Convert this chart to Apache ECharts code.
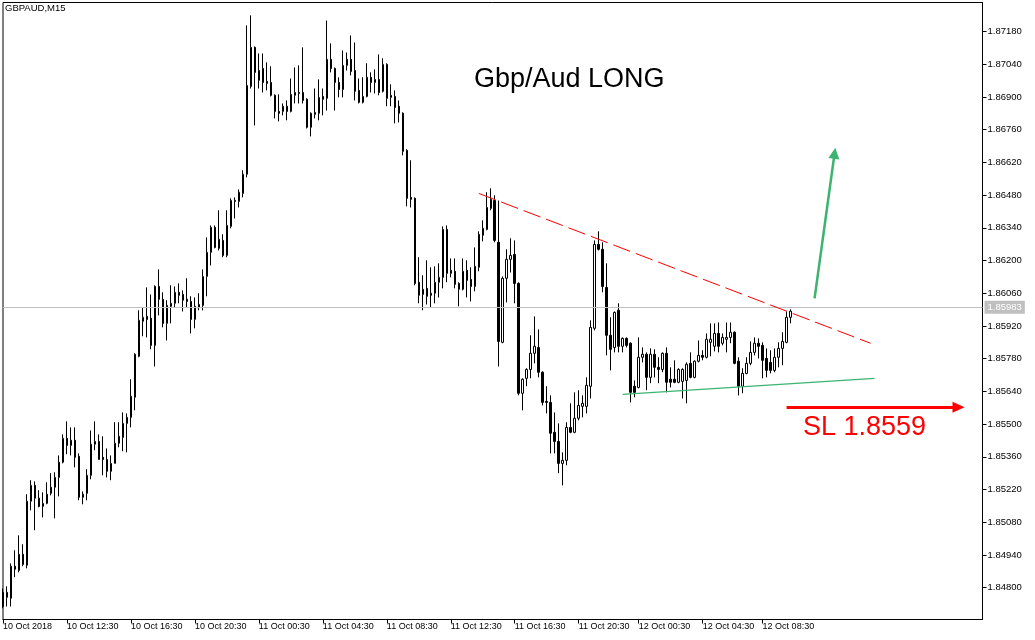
<!DOCTYPE html>
<html><head><meta charset="utf-8">
<script src="https://cdn.jsdelivr.net/npm/echarts@6.0.0/dist/echarts.min.js"></script>
<style>html,body{margin:0;padding:0;background:#fff}#c{width:1035px;height:640px}</style>
</head><body><div id="c"></div>
<script>
// ---- data (GBPAUD M15) ----
const opens = [
1.84780,1.84780,1.84755,1.84892,1.84874,1.84943,1.84896,1.85170,1.85238,1.85183,
1.85148,1.85161,1.85204,1.85230,1.85272,1.85337,1.85439,1.85409,1.85431,1.85362,
1.85187,1.85204,1.85281,1.85414,1.85426,1.85358,1.85349,1.85298,1.85332,1.85418,
1.85443,1.85503,1.85529,1.85615,1.85790,1.85940,1.85961,1.85953,1.85837,1.86089,
1.86034,1.85931,1.86004,1.86017,1.86064,1.86055,1.86034,1.86025,1.85948,1.86000,
1.86008,1.86132,1.86235,1.86342,1.86252,1.86286,1.86222,1.86346,1.86457,1.86453,
1.86487,1.86569,1.86945,1.87112,1.86971,1.87022,1.86966,1.86962,1.86907,1.86838,
1.86838,1.86860,1.86838,1.86907,1.86919,1.86919,1.86890,1.86770,1.86825,1.86830,
1.86902,1.86894,1.87061,1.87022,1.86962,1.86932,1.87035,1.87061,1.87013,1.86928,
1.86877,1.86902,1.86984,1.86962,1.86975,1.86924,1.87039,1.86898,1.86902,1.86860,
1.86830,1.86671,1.86470,1.86466,1.86107,1.86055,1.86081,1.86051,1.86060,1.86107,
1.86128,1.86333,1.86145,1.86154,1.86102,1.86077,1.86158,1.86119,1.86089,1.86171,
1.86308,1.86333,1.86423,1.86457,1.86278,1.85850,1.86124,1.86205,1.86226,1.86102,
1.85632,1.85696,1.85734,1.85803,1.85828,1.85722,1.85597,1.85593,1.85465,1.85426,
1.85332,1.85345,1.85486,1.85465,1.85525,1.85576,1.85576,1.85662,1.85910,1.86269,
1.86248,1.86085,1.85880,1.85828,1.85987,1.85833,1.85867,1.85846,1.85662,1.85657,
1.85786,1.85799,1.85700,1.85799,1.85743,1.85734,1.85803,1.85692,1.85692,1.85679,
1.85683,1.85687,1.85760,1.85700,1.85769,1.85794,1.85786,1.85850,1.85833,1.85888,
1.85846,1.85863,1.85871,1.85893,1.85769,1.85662,1.85717,1.85760,1.85807,1.85846,
1.85837,1.85781,1.85764,1.85730,1.85786,1.85824,1.85850,1.85957];
const closes = [
1.84720,1.84759,1.84892,1.84879,1.84943,1.84900,1.85170,1.85238,1.85183,1.85148,
1.85161,1.85200,1.85230,1.85272,1.85337,1.85439,1.85409,1.85431,1.85358,1.85187,
1.85200,1.85281,1.85414,1.85426,1.85349,1.85349,1.85298,1.85332,1.85418,1.85448,
1.85503,1.85529,1.85619,1.85799,1.85944,1.85957,1.85948,1.85837,1.86089,1.86034,
1.85931,1.86008,1.86017,1.86064,1.86051,1.86030,1.86025,1.85948,1.86004,1.86012,
1.86132,1.86235,1.86342,1.86256,1.86291,1.86222,1.86350,1.86457,1.86453,1.86492,
1.86569,1.86949,1.87112,1.87005,1.87013,1.86962,1.86958,1.86907,1.86838,1.86830,
1.86860,1.86838,1.86911,1.86919,1.86915,1.86885,1.86770,1.86830,1.86834,1.86898,
1.86890,1.87061,1.87022,1.86962,1.86932,1.87035,1.87061,1.87009,1.86924,1.86877,
1.86902,1.86984,1.86962,1.86975,1.86919,1.87039,1.86894,1.86907,1.86855,1.86830,
1.86667,1.86466,1.86462,1.86102,1.86051,1.86077,1.86047,1.86060,1.86107,1.86128,
1.86333,1.86145,1.86158,1.86098,1.86077,1.86154,1.86115,1.86089,1.86175,1.86312,
1.86338,1.86427,1.86462,1.86286,1.85854,1.86124,1.86205,1.86222,1.86102,1.85632,
1.85692,1.85734,1.85803,1.85833,1.85722,1.85593,1.85593,1.85461,1.85426,1.85332,
1.85345,1.85486,1.85465,1.85525,1.85580,1.85589,1.85666,1.85914,1.86269,1.86248,
1.86089,1.85880,1.85820,1.85978,1.85833,1.85867,1.85837,1.85636,1.85636,1.85786,
1.85799,1.85700,1.85799,1.85743,1.85734,1.85803,1.85679,1.85679,1.85679,1.85734,
1.85734,1.85756,1.85700,1.85769,1.85794,1.85786,1.85863,1.85863,1.85888,1.85833,
1.85871,1.85871,1.85893,1.85760,1.85662,1.85717,1.85760,1.85807,1.85846,1.85833,
1.85773,1.85730,1.85730,1.85786,1.85824,1.85854,1.85957,1.85983];
const lows = [
1.84712,1.84720,1.84720,1.84845,1.84866,1.84892,1.84883,1.85131,1.85046,1.85144,
1.85101,1.85157,1.85195,1.85097,1.85191,1.85332,1.85371,1.85366,1.85315,1.85174,
1.85157,1.85174,1.85264,1.85388,1.85349,1.85281,1.85272,1.85260,1.85332,1.85401,
1.85384,1.85379,1.85486,1.85559,1.85786,1.85876,1.85871,1.85820,1.85747,1.85965,
1.85914,1.85858,1.85931,1.86000,1.86017,1.85982,1.86000,1.85888,1.85910,1.85987,
1.85987,1.86047,1.86179,1.86252,1.86243,1.86214,1.86214,1.86338,1.86380,1.86427,
1.86470,1.86556,1.86936,1.86778,1.86936,1.86919,1.86928,1.86902,1.86808,1.86795,
1.86821,1.86800,1.86834,1.86872,1.86872,1.86872,1.86765,1.86731,1.86808,1.86800,
1.86821,1.86842,1.87005,1.86842,1.86898,1.86898,1.87013,1.86992,1.86885,1.86872,
1.86872,1.86898,1.86919,1.86915,1.86907,1.86919,1.86860,1.86860,1.86787,1.86791,
1.86650,1.86432,1.86427,1.86094,1.86017,1.85987,1.86012,1.86000,1.86017,1.86042,
1.86081,1.86107,1.86128,1.86081,1.86004,1.86072,1.86042,1.86025,1.86068,1.86154,
1.86282,1.86329,1.86415,1.86278,1.85747,1.85846,1.86021,1.86149,1.86017,1.85623,
1.85559,1.85662,1.85696,1.85760,1.85700,1.85580,1.85546,1.85375,1.85375,1.85290,
1.85238,1.85324,1.85461,1.85461,1.85516,1.85529,1.85546,1.85610,1.85901,1.86243,
1.86064,1.85794,1.85730,1.85807,1.85807,1.85807,1.85828,1.85593,1.85615,1.85653,
1.85764,1.85645,1.85675,1.85700,1.85675,1.85722,1.85636,1.85657,1.85675,1.85675,
1.85610,1.85589,1.85696,1.85696,1.85764,1.85773,1.85781,1.85790,1.85811,1.85807,
1.85837,1.85807,1.85846,1.85756,1.85623,1.85632,1.85713,1.85752,1.85794,1.85781,
1.85696,1.85700,1.85717,1.85722,1.85743,1.85752,1.85846,1.85931];
const highs = [
1.84797,1.84806,1.84904,1.84960,1.85024,1.84986,1.85200,1.85260,1.85255,1.85217,
1.85208,1.85251,1.85290,1.85294,1.85366,1.85456,1.85512,1.85486,1.85486,1.85375,
1.85212,1.85307,1.85473,1.85512,1.85456,1.85448,1.85396,1.85366,1.85508,1.85508,
1.85550,1.85546,1.85692,1.85803,1.85987,1.86000,1.86085,1.86055,1.86094,1.86162,
1.86064,1.86030,1.86094,1.86089,1.86102,1.86072,1.86124,1.86047,1.86042,1.86060,
1.86162,1.86299,1.86350,1.86350,1.86415,1.86312,1.86415,1.86466,1.86470,1.86504,
1.86586,1.87206,1.87249,1.87116,1.87086,1.87086,1.87048,1.87031,1.86911,1.86911,
1.86872,1.86885,1.86979,1.87026,1.87035,1.87112,1.86894,1.86834,1.86936,1.86975,
1.86936,1.87227,1.87129,1.87026,1.86984,1.87099,1.87090,1.87163,1.87133,1.86979,
1.86984,1.87044,1.87005,1.87018,1.87082,1.87065,1.87044,1.86954,1.86928,1.86885,
1.86834,1.86676,1.86629,1.86470,1.86214,1.86137,1.86201,1.86171,1.86175,1.86188,
1.86346,1.86350,1.86209,1.86209,1.86107,1.86209,1.86201,1.86171,1.86256,1.86325,
1.86372,1.86492,1.86509,1.86479,1.86457,1.86132,1.86248,1.86295,1.86286,1.86107,
1.85696,1.85739,1.85880,1.85961,1.85905,1.85726,1.85662,1.85623,1.85550,1.85503,
1.85379,1.85508,1.85589,1.85636,1.85645,1.85623,1.85700,1.85944,1.86286,1.86325,
1.86278,1.86188,1.85957,1.85982,1.86017,1.85871,1.85871,1.85850,1.85687,1.85871,
1.85828,1.85807,1.85824,1.85820,1.85786,1.85807,1.85828,1.85743,1.85773,1.85739,
1.85739,1.85764,1.85807,1.85773,1.85858,1.85816,1.85888,1.85931,1.85931,1.85935,
1.85888,1.85935,1.85935,1.85897,1.85786,1.85739,1.85786,1.85854,1.85871,1.85867,
1.85850,1.85824,1.85816,1.85824,1.85850,1.85893,1.85982,1.85991];

const timeLabels = ['10 Oct 2018','10 Oct 12:30','10 Oct 16:30','10 Oct 20:30','11 Oct 00:30','11 Oct 04:30',
  '11 Oct 08:30','11 Oct 12:30','11 Oct 16:30','11 Oct 20:30','12 Oct 00:30','12 Oct 04:30','12 Oct 08:30'];
const timeLabelBar = [0,16,32,48,64,80,96,112,128,144,159,175,190];
const priceTicks = [1.84800,1.84940,1.85080,1.85220,1.85360,1.85500,1.85640,1.85780,1.85920,
  1.86060,1.86200,1.86340,1.86480,1.86620,1.86760,1.86900,1.87040,1.87180];
const lastPrice = 1.85983;
const priceMin = 1.84664, priceMax = 1.87304;
const slotCount = 246;              // chart slots including empty right margin
// annotation anchors [bar index, price]
const resistanceLine = [[119, 1.86487], [217, 1.85846]];
const supportLine = [[155, 1.85627], [218, 1.85696]];
const longArrow = [[203, 1.86038], [208, 1.86659]];
const stopArrow = [[196, 1.85572], [239, 1.85572]];
const titleText = 'Gbp/Aud LONG';
const slText = 'SL 1.8559';
const symbolText = 'GBPAUD,M15';

// ---- chart ----
const categories = Array.from({length: slotCount}, (_, i) => String(i));
const candles = opens.map((o, i) => [o, closes[i], lows[i], highs[i]]);
const isTimeTick = (idx) => timeLabelBar.indexOf(idx) >= 0;
const seg = (pts) => [{coord: pts[0]}, {coord: pts[1]}];

const chart = echarts.init(document.getElementById('c'), null, {renderer: 'canvas'});
chart.setOption({
  animation: false,
  backgroundColor: '#fff',
  title: [
    {text: symbolText, left: 5, top: 3, padding: 0,
      textStyle: {fontFamily: 'Liberation Sans', fontSize: 9.5, fontWeight: 'normal', color: '#000'}},
    {text: titleText, left: 474, top: 66, padding: 0,
      textStyle: {fontFamily: 'Liberation Sans', fontSize: 27, fontWeight: 'normal', color: '#000'}},
    {text: slText, left: 803, top: 414, padding: 0,
      textStyle: {fontFamily: 'Liberation Sans', fontSize: 27, fontWeight: 'normal', color: '#ff0000'}}
  ],
  grid: {left: 2.5, right: 52.5, top: 2.5, bottom: 20.5, show: true, borderColor: '#000', borderWidth: 1,
    backgroundColor: '#fff', containLabel: false},
  xAxis: {
    type: 'category', data: categories, boundaryGap: false,
    axisLine: {show: true, lineStyle: {color: '#000', width: 1}},
    axisTick: {show: true, interval: isTimeTick, length: 4, lineStyle: {color: '#000'}},
    axisLabel: {show: true, interval: isTimeTick, align: 'left', margin: 3,
      fontFamily: 'Liberation Sans', fontSize: 9, color: '#000',
      formatter: (v, idx) => { const j = timeLabelBar.indexOf(idx); return j >= 0 ? timeLabels[j] : ''; }},
    splitLine: {show: false}
  },
  yAxis: {
    type: 'value', position: 'right', min: priceMin, max: priceMax, scale: true,
    axisLine: {show: true, lineStyle: {color: '#000', width: 1}},
    axisTick: {show: true, length: 4, customValues: priceTicks, lineStyle: {color: '#000'}},
    axisLabel: {show: true, margin: 5, customValues: priceTicks, fontFamily: 'Liberation Sans', fontSize: 9.5,
      color: '#000', formatter: (v) => v.toFixed(5)},
    splitLine: {show: false}
  },
  series: [
    {
      type: 'candlestick', data: candles, barWidth: 2,
      itemStyle: {color: '#fff', color0: '#000', borderColor: '#000', borderColor0: '#000', borderWidth: 1},
      markLine: {
        silent: true, symbol: ['none', 'none'], animation: false,
        lineStyle: {color: '#c0c0c0', type: 'solid', width: 1},
        label: {show: true, position: 'end', distance: 2, formatter: () => lastPrice.toFixed(5),
          color: '#fff', backgroundColor: '#c0c0c0', padding: [2, 3, 1, 3],
          fontFamily: 'Liberation Sans', fontSize: 9.5},
        data: [{yAxis: lastPrice}]
      },
      z: 3
    },
    {
      type: 'line', data: [], silent: true, z: 4,
      markLine: {
        silent: true, animation: false, symbol: ['none', 'none'], label: {show: false},
        data: [
          [Object.assign({}, seg(resistanceLine)[0], {lineStyle: {color: '#ff0000', width: 1, type: [18, 6]}}), seg(resistanceLine)[1]],
          [Object.assign({}, seg(supportLine)[0], {lineStyle: {color: '#3cb371', width: 1.3, type: 'solid'}}), seg(supportLine)[1]],
          [Object.assign({}, seg(longArrow)[0], {symbol: 'none', lineStyle: {color: '#3cb371', width: 2.5, type: 'solid'}}),
           Object.assign({}, seg(longArrow)[1], {symbol: 'triangle', symbolSize: [11, 11]})],
          [Object.assign({}, seg(stopArrow)[0], {symbol: 'none', lineStyle: {color: '#ff0000', width: 3, type: 'solid'}}),
           Object.assign({}, seg(stopArrow)[1], {symbol: 'triangle', symbolSize: [11, 12]})]
        ]
      }
    }
  ]
});
</script>
</body></html>
